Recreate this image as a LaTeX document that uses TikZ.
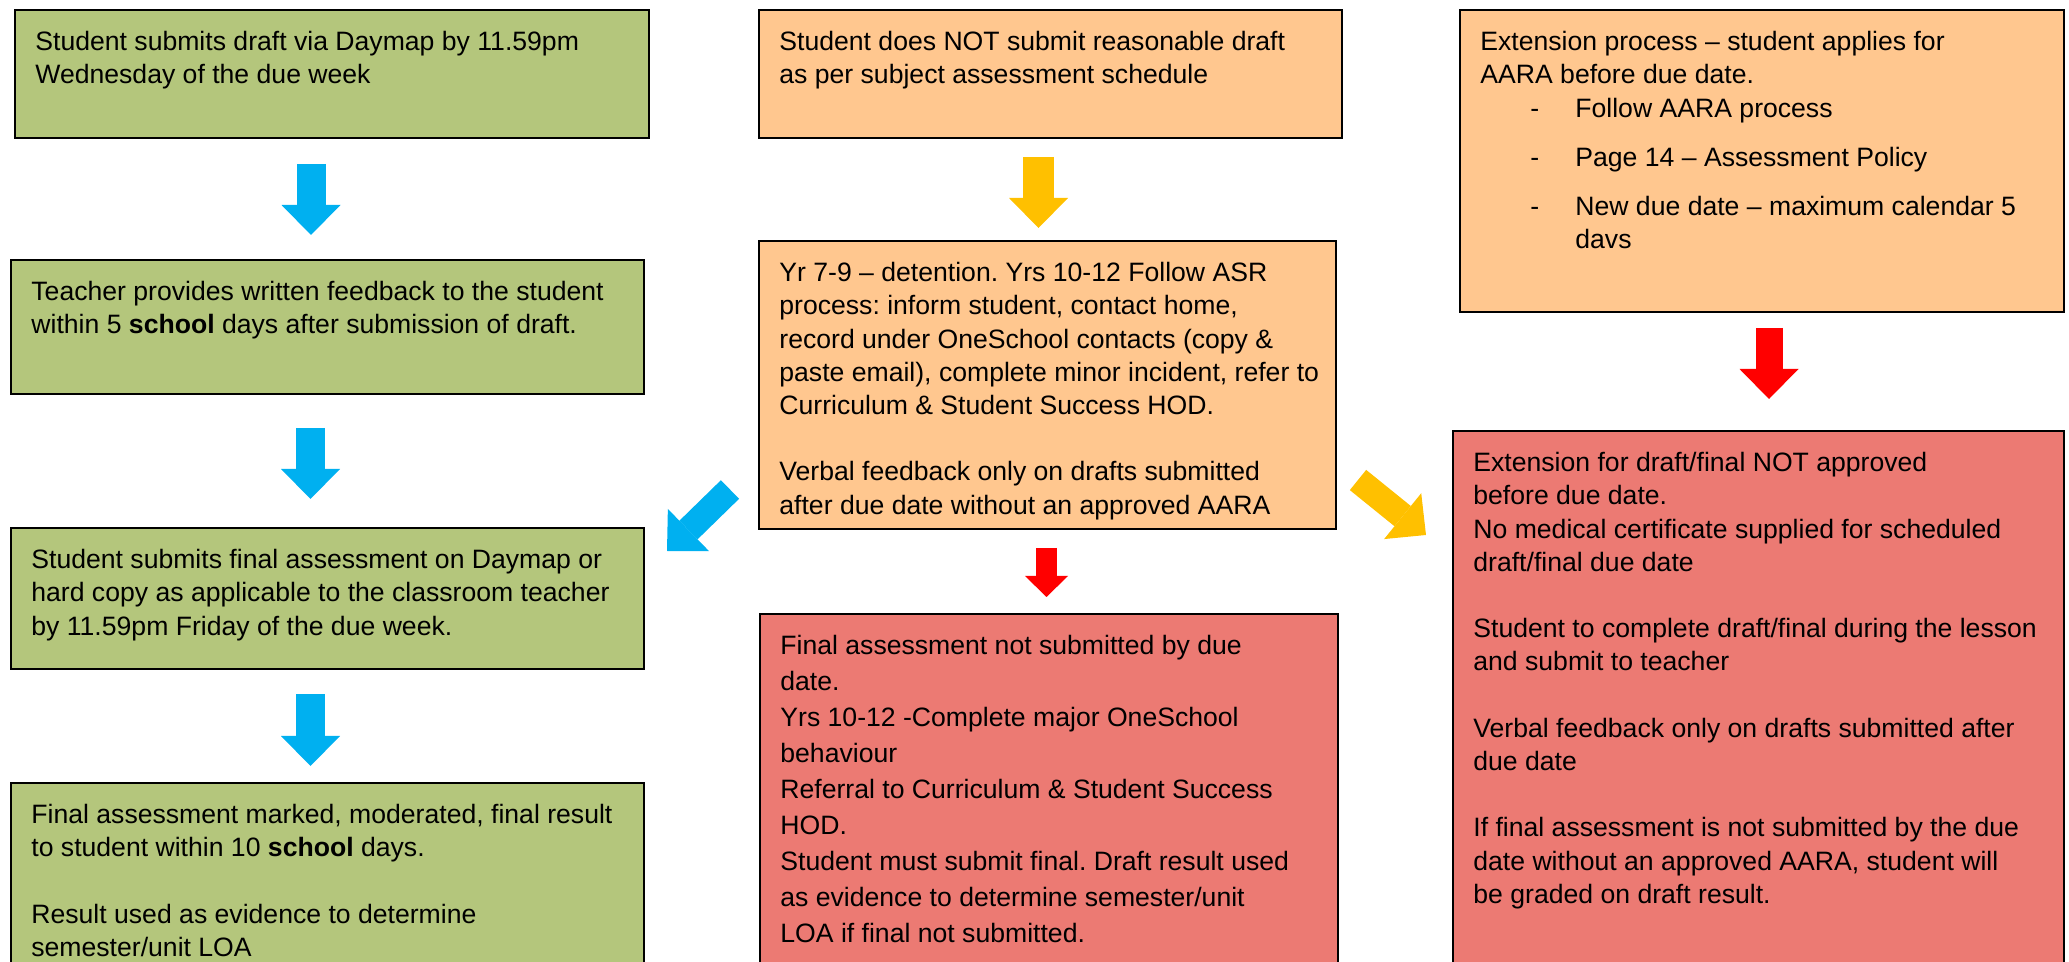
\documentclass[tikz,border=0pt]{standalone}
\usepackage{fontspec}
\setmainfont{Liberation Sans}
\usetikzlibrary{arrows.meta}

\definecolor{boxgreen}{RGB}{180,198,124}
\definecolor{boxorange}{RGB}{255,199,143}
\definecolor{boxred}{RGB}{236,122,115}
\definecolor{arrblue}{RGB}{0,176,240}
\definecolor{arryellow}{RGB}{255,192,0}
\definecolor{arrred}{RGB}{255,0,0}

\newcommand{\dashitem}{\makebox[47.5pt][l]{\hspace*{25pt}-}}
\frenchspacing

\begin{document}
\begin{tikzpicture}[x=0.5pt,y=-0.5pt,
	box/.style={draw=black, line width=1pt, inner sep=0pt, anchor=north west},
	txt/.style={anchor=north west, align=left, inner xsep=10.5pt, inner ysep=11pt, font=\fontsize{13.3pt}{16.6pt}\selectfont},
	fat/.style={line width=14.5pt, -{Triangle[width=29.5pt,length=15pt,line width=0pt]}},
	smallfat/.style={line width=10.5pt, -{Triangle[width=21.5pt,length=10.5pt,line width=0pt]}}]
			\useasboundingbox (0,0) rectangle (2069,962);
			\clip (0,0) rectangle (2069,962);
			
			% left column
			\node[box, fill=boxgreen, minimum width=317pt, minimum height=64pt] (g1) at (14,9) {};
			\node[box, fill=boxgreen, minimum width=316.5pt, minimum height=67pt] (g2) at (10,259) {};
			\node[box, fill=boxgreen, minimum width=316.5pt, minimum height=70.5pt] (g3) at (10,527) {};
			\node[box, fill=boxgreen, minimum width=316.5pt, minimum height=110pt] (g4) at (10,782) {};
			
			% middle column
			\node[box, fill=boxorange, minimum width=291.5pt, minimum height=64pt] (o1) at (758,9) {};
			\node[box, fill=boxorange, minimum width=288.5pt, minimum height=144pt] (o2) at (758,240) {};
			\node[box, fill=boxred, minimum width=289pt, minimum height=190pt] (r1) at (759,613) {};
			
			% right column
			\node[box, fill=boxorange, minimum width=302pt, minimum height=151pt] (o3) at (1459,9) {};
			\node[box, fill=boxred, minimum width=305.5pt, minimum height=290pt] (r2) at (1452,430) {};
			
			% texts
			\node[txt] (g1t) at (g1.north west) {Student submits draft via Daymap by 11.59pm\\Wednesday of the due week};
			\node[txt] (g2t) at (g2.north west) {Teacher provides written feedback to the student\\within 5 \textbf{school} days after submission of draft.};
			\node[txt] (g3t) at (g3.north west) {Student submits final assessment on Daymap or\\hard copy as applicable to the classroom teacher\\by 11.59pm Friday of the due week.};
			\node[txt] (g4t) at (g4.north west) {Final assessment marked, moderated, final result\\to student within 10 \textbf{school} days.\\[16.6pt]Result used as evidence to determine\\semester/unit LOA};
			\node[txt] (o1t) at (o1.north west) {Student does NOT submit reasonable draft\\as per subject assessment schedule};
			\node[txt] (o2t) at (o2.north west) {Yr 7-9 -- detention. Yrs 10-12 Follow ASR\\process: inform student, contact home,\\record under OneSchool contacts (copy \&\\paste email), complete minor incident, refer to\\Curriculum \& Student Success HOD.\\[16.6pt]Verbal feedback only on drafts submitted\\after due date without an approved AARA};
			\node[txt, font=\fontsize{13.3pt}{18pt}\selectfont] (r1t) at (r1.north west) {Final assessment not submitted by due\\date.\\Yrs 10-12 -Complete major OneSchool\\behaviour\\Referral to Curriculum \& Student Success\\HOD.\\Student must submit final. Draft result used\\as evidence to determine semester/unit\\LOA if final not submitted.};
			\node[txt] (o3t) at (o3.north west) {Extension process -- student applies for\\AARA before due date.\\\dashitem Follow AARA process\\[8pt]\dashitem Page 14 -- Assessment Policy\\[8pt]\dashitem New due date -- maximum calendar 5\\\hspace*{47.5pt}davs};
			\node[txt] (r2t) at (r2.north west) {Extension for draft/final NOT approved\\before due date.\\No medical certificate supplied for scheduled\\draft/final due date\\[16.6pt]Student to complete draft/final during the lesson\\and submit to teacher\\[16.6pt]Verbal feedback only on drafts submitted after\\due date\\[16.6pt]If final assessment is not submitted by the due\\date without an approved AARA, student will\\be graded on draft result.};
			
			% block arrows
			\draw[fat, arrblue, shorten <=12.5pt, shorten >=12pt] ([xshift=-10.5pt]g1.south) -- ([xshift=-10.5pt]g1.south |- g2.north);
			\draw[fat, arrblue, shorten <=16.5pt, shorten >=14pt] ([xshift=-8.5pt]g2.south) -- ([xshift=-8.5pt]g2.south |- g3.north);
			\draw[fat, arrblue, shorten <=12pt, shorten >=8pt] ([xshift=-8.5pt]g3.south) -- ([xshift=-8.5pt]g3.south |- g4.north);
			\draw[fat, arryellow, line width=15.5pt, shorten <=9pt, shorten >=6pt] ([xshift=-6pt]o1.south) -- ([xshift=-6pt]o1.south |- o2.north);
			\draw[smallfat, arrred, shorten <=9pt, shorten >=8pt] ([xshift=-0.5pt]o2.south) -- ([xshift=-0.5pt]o2.south |- r1.north);
			\draw[fat, arrred, line width=13.5pt, shorten <=7.5pt, shorten >=15.5pt] ([xshift=3.5pt]o3.south) -- ([xshift=3.5pt]o3.south |- r2.north);
			
			\coordinate (bd1) at (730,489.5);
			\coordinate (bd2) at (667,551);
			\coordinate (yd1) at (1358,480);
			\coordinate (yd2) at (1426,535);
			\draw[fat, arrblue, line width=13pt] (bd1) -- (bd2);
			\draw[fat, arryellow, line width=13pt] (yd1) -- (yd2);
	\end{tikzpicture}
\end{document}
